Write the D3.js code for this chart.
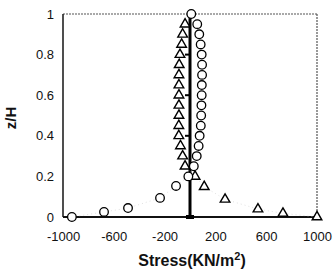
<!DOCTYPE html>
<html>
<head>
<meta charset="utf-8">
<script src="https://cdn.jsdelivr.net/npm/d3@7"></script>
<style>
  body { margin: 0; background: #fff; }
  svg { display: block; font-family: "Liberation Sans", Arial, sans-serif; }
</style>
</head>
<body>
<svg id="chart" width="334" height="273"></svg>
<script>
// stress values (KN/m2) against relative depth z/H
var circleZ = [1.0, 0.95, 0.9, 0.85, 0.8, 0.75, 0.7, 0.65, 0.6, 0.55, 0.5, 0.45, 0.4, 0.35, 0.3, 0.25, 0.2, 0.153, 0.094, 0.044, 0.025, 0.0];
var circleX = [10, 57, 73, 84, 92, 95, 95, 93, 92, 90, 88, 85, 76, 68, 53, 30, -13, -110, -236, -488, -677, -930];

var triangleZ = [0.95, 0.9, 0.85, 0.8, 0.75, 0.7, 0.65, 0.6, 0.55, 0.5, 0.45, 0.4, 0.35, 0.3, 0.25, 0.2, 0.149, 0.087, 0.039, 0.018, 0.0];
var triangleX = [-39, -58, -66, -79, -85, -87, -87, -87, -87, -87, -88, -88, -75, -58, -39, 40, 112, 276, 535, 732, 1000];

var xTicks = [-1000, -600, -200, 200, 600, 1000];
var yTicks = [0, 0.2, 0.4, 0.6, 0.8, 1];
var centerTicks = [0.2, 0.4, 0.6, 0.8];

var svg = d3.select("#chart");
var plotLeft = 63, plotRight = 317, plotTop = 14, plotBottom = 217;

var x = d3.scaleLinear().domain([-1000, 1000]).range([plotLeft, plotRight]);
var y = d3.scaleLinear().domain([0, 1]).range([plotBottom, plotTop]);

// plot frame: dark left/bottom, scanned-looking grey top/right
svg.append("line")
  .attr("x1", plotLeft).attr("x2", plotRight).attr("y1", plotTop).attr("y2", plotTop)
  .attr("stroke", "#555").attr("stroke-width", 1.2).attr("stroke-dasharray", "2,1");
svg.append("line")
  .attr("x1", plotRight).attr("x2", plotRight).attr("y1", plotTop).attr("y2", plotBottom)
  .attr("stroke", "#555").attr("stroke-width", 1.2).attr("stroke-dasharray", "2,1");
svg.append("line")
  .attr("x1", plotLeft).attr("x2", plotLeft).attr("y1", plotTop).attr("y2", plotBottom)
  .attr("stroke", "#222").attr("stroke-width", 1.6);
svg.append("line")
  .attr("x1", plotLeft).attr("x2", plotRight).attr("y1", plotBottom).attr("y2", plotBottom)
  .attr("stroke", "#111").attr("stroke-width", 2);

// vertical axis crossing at zero stress
svg.append("line")
  .attr("x1", x(0)).attr("x2", x(0)).attr("y1", y(1)).attr("y2", y(0))
  .attr("stroke", "#000").attr("stroke-width", 3);
svg.selectAll(".center-tick")
  .data(centerTicks)
  .enter()
  .append("line")
  .attr("class", "center-tick")
  .attr("x1", x(0) - 5).attr("x2", x(0))
  .attr("y1", function(d) { return y(d); })
  .attr("y2", function(d) { return y(d); })
  .attr("stroke", "#000").attr("stroke-width", 2);
svg.append("rect")
  .attr("x", x(0) - 4).attr("y", y(0) - 2).attr("width", 8).attr("height", 4)
  .attr("fill", "#000");

// axes labels
var yAxis = svg.append("g")
  .attr("transform", "translate(" + (plotLeft - 9) + ",0)")
  .call(d3.axisLeft(y).tickValues(yTicks).tickSize(0).tickPadding(0)
    .tickFormat(function(d) { return String(d); }));
yAxis.select(".domain").remove();
yAxis.selectAll("text")
  .attr("font-size", 13).attr("fill", "#111")
  .style("font-family", "'Liberation Sans', Arial, sans-serif");

var xAxis = svg.append("g")
  .attr("transform", "translate(0," + (plotBottom + 15) + ")")
  .call(d3.axisBottom(x).tickValues(xTicks).tickSize(0).tickPadding(0)
    .tickFormat(function(d) { return String(d); }));
xAxis.select(".domain").remove();
xAxis.selectAll("text")
  .attr("font-size", 13).attr("fill", "#111")
  .style("font-family", "'Liberation Sans', Arial, sans-serif");

// axis titles
var xTitle = svg.append("text")
  .attr("x", 192).attr("y", 266)
  .attr("text-anchor", "middle")
  .attr("font-size", 16).attr("font-weight", "bold").attr("fill", "#111");
xTitle.append("tspan").text("Stress(KN/m");
xTitle.append("tspan").attr("dy", -6).attr("font-size", 11).text("2");
xTitle.append("tspan").attr("dy", 6).text(")");

svg.append("text")
  .attr("transform", "translate(16,118) rotate(-90)")
  .attr("text-anchor", "middle")
  .attr("font-size", 15).attr("font-weight", "bold").attr("fill", "#111")
  .text("z/H");

// series
var circles = circleX.map(function(v, i) { return [v, circleZ[i]]; });
var triangles = triangleX.map(function(v, i) { return [v, triangleZ[i]]; });

var line = d3.line()
  .x(function(d) { return x(d[0]); })
  .y(function(d) { return y(d[1]); });

// faint connecting lines, barely visible in the scan
[circles, triangles].forEach(function(series) {
  svg.append("path")
    .datum(series)
    .attr("d", line)
    .attr("fill", "none")
    .attr("stroke", "#ccc")
    .attr("stroke-width", 0.6)
    .attr("stroke-dasharray", "1,3");
});

svg.selectAll(".tri")
  .data(triangles)
  .enter()
  .append("path")
  .attr("class", "tri")
  .attr("d", d3.symbol().type(d3.symbolTriangle).size(40))
  .attr("transform", function(d) { return "translate(" + x(d[0]) + "," + y(d[1]) + ")"; })
  .attr("fill", "#fff")
  .attr("stroke", "#000")
  .attr("stroke-width", 1.4);

svg.selectAll(".circ")
  .data(circles)
  .enter()
  .append("circle")
  .attr("class", "circ")
  .attr("cx", function(d) { return x(d[0]); })
  .attr("cy", function(d) { return y(d[1]); })
  .attr("r", 4.3)
  .attr("fill", "#fff")
  .attr("stroke", "#000")
  .attr("stroke-width", 1.3);
</script>
</body>
</html>
